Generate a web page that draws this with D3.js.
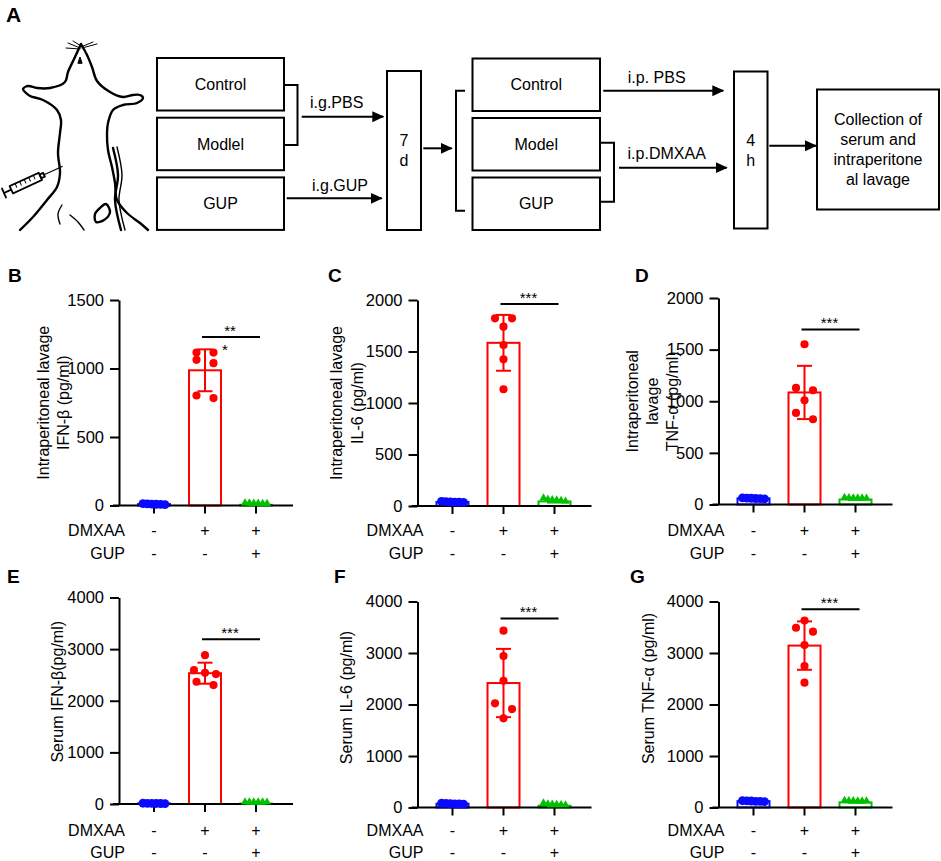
<!DOCTYPE html>
<html>
<head>
<meta charset="utf-8">
<script src="https://cdn.jsdelivr.net/npm/d3@7/dist/d3.min.js"></script>
<style>
  body { margin: 0; background: #fff; }
  svg { font-family: "Liberation Sans", Arial, sans-serif; }
</style>
</head>
<body>
<div id="chart"></div>
<script>
// ---- data ----
var groups = ["Control", "Model", "GUP"];
var dmxaaRow = ["-", "+", "+"];
var gupRow = ["-", "-", "+"];
var panelIds = ["B", "C", "D", "E", "F", "G"];
var yTitles = [
  ["Intraperitoneal lavage", "IFN-β (pg/ml)"],
  ["Intraperitoneal lavage", "IL-6 (pg/ml)"],
  ["Intraperitoneal", "lavage", "TNF-α (pg/ml)"],
  ["Serum IFN-β(pg/ml)"],
  ["Serum IL-6 (pg/ml)"],
  ["Serum TNF-α (pg/ml)"]
];
var yMax = [1500, 2000, 2000, 4000, 4000, 4000];
var yStep = [500, 500, 500, 1000, 1000, 1000];
var controlValues = [
  [6, 10, 14, 8, 12, 9],
  [38, 42, 35, 45, 40, 36],
  [58, 62, 55, 60, 64, 57],
  [8, 12, 15, 10, 9, 11],
  [70, 78, 65, 82, 74, 68],
  [120, 128, 115, 132, 125, 118]
];
var modelValues = [
  [1116, 1116, 1063, 1039, 803, 784],
  [1822, 1822, 1741, 1563, 1424, 1133],
  [1552, 1129, 1107, 1010, 887, 826],
  [2883, 2593, 2541, 2516, 2367, 2303],
  [3434, 2942, 2462, 2022, 1911, 1731],
  [3630, 3490, 3415, 3156, 2748, 2424]
];
var gupValues = [
  [4, 6, 5, 3, 7, 5],
  [30, 45, 62, 38, 50, 42],
  [45, 50, 48, 52, 47, 49],
  [6, 9, 8, 7, 10, 8],
  [25, 40, 30, 55, 20, 35],
  [95, 100, 105, 98, 102, 96]
];
var sigValues = [1230, 1960, 1695, 3190, 3670, 3850];
var sigLabels = [["**", "*"], ["***"], ["***"], ["***"], ["***"], ["***"]];

// flow chart (panel A) texts
var flowLeft = ["Control", "Modlel", "GUP"];
var flowRight = ["Control", "Model", "GUP"];
var flowWait1 = ["7", "d"];
var flowWait2 = ["4", "h"];
var flowEnd = ["Collection of", "serum and", "intraperitone", "al lavage"];
var flowArrowLabels = ["i.g.PBS", "i.g.GUP", "i.p. PBS", "i.p.DMXAA"];

// ---- style / layout ----
var colors = ["#0a0aff", "#ff0000", "#00c000"];
var panelLayout = [
  {x: 119,   top: 300,   bottom: 505.5, titleX: [-76, -56],      titleDy: 0,   lx: 8,   ly: 282, rows: [530, 553]},
  {x: 417.5, top: 300,   bottom: 506,   titleX: [-81, -60],      titleDy: 0,   lx: 328, ly: 282, rows: [530, 553]},
  {x: 718.5, top: 298,   bottom: 504.5, titleX: [-86, -66, -46], titleDy: 0,   lx: 635, ly: 282, rows: [530, 553]},
  {x: 119,   top: 597.5, bottom: 804,   titleX: [-62],           titleDy: -9,  lx: 7,   ly: 583, rows: [830, 852]},
  {x: 417.5, top: 601.5, bottom: 807.5, titleX: [-71],           titleDy: -7,  lx: 334, ly: 583, rows: [830, 852]},
  {x: 718.5, top: 601.5, bottom: 807.5, titleX: [-70],           titleDy: -16, lx: 630, ly: 583, rows: [830, 852]}
];

var svg = d3.select("#chart").append("svg")
  .attr("width", 941)
  .attr("height", 861);

var defs = svg.append("defs");
defs.append("marker")
  .attr("id", "arrow")
  .attr("markerUnits", "userSpaceOnUse")
  .attr("markerWidth", 12).attr("markerHeight", 12)
  .attr("refX", 11).attr("refY", 5.5)
  .attr("orient", "auto")
  .append("path").attr("d", "M0,0 L12,5.5 L0,11 Z").attr("fill", "#000");

// ---------- panel A ----------
var A = svg.append("g");
A.append("text").text("A").attr("x", 6).attr("y", 22)
  .attr("font-size", 21).attr("font-weight", "bold");

// mouse sketch
var mouse = A.append("g").attr("fill", "none").attr("stroke", "#000")
  .attr("stroke-width", 2.4).attr("stroke-linejoin", "round").attr("stroke-linecap", "round");
var line = d3.line().curve(d3.curveCatmullRom);
mouse.append("path").attr("d", line([[81,44],[75,57],[68,72],[65,82],[50,88],[37,88],[28,86],[23,89],[25,92],[30,96],[43,100],[57,110],[61,120],[60,133],[58,153],[60,173],[57,187],[47,200],[33,217],[20,230]]));
mouse.append("path").attr("d", line([[81,44],[87,55],[92,67],[97,81],[110,92],[123,97],[133,95],[140,95],[143,98],[137,103],[123,105],[113,110],[108,123],[107,133],[108,150],[112,167],[115,183],[117,200],[127,213],[140,223],[148,230]]));
mouse.append("path").attr("d", line([[113,148],[118,175],[115,200],[121,230]]));
mouse.append("path").attr("d", line([[117,147],[122,175],[119,200],[125,230]])).attr("stroke-width", 1.4);
mouse.append("path").attr("d", line([[100,208],[106,204],[110,212],[104,220],[96,222],[95,214],[100,208]]));
mouse.append("path").attr("d", line([[62,205],[58,214],[60,224]])).attr("stroke-width", 1.4);
mouse.append("path").attr("d", line([[70,215],[78,222],[84,230]])).attr("stroke-width", 1.4);
mouse.append("path").attr("d", "M78,63 L80,57 L82,63 Z").attr("fill", "#000").attr("stroke-width", 1);
[[[80,48],[68,43]],[[80,49],[66,48]],[[81,47],[93,42]],[[82,48],[97,44]],[[81,46],[73,41]]].forEach(function(w){
  mouse.append("path").attr("d", d3.line()(w)).attr("stroke-width", 1);
});
var syringe = mouse.append("g").attr("transform", "translate(4,193) rotate(-24.5)").attr("stroke-width", 1.8);
syringe.append("line").attr("x1", 0).attr("y1", -5).attr("x2", 0).attr("y2", 5);
syringe.append("line").attr("x1", 0).attr("y1", 0).attr("x2", 8).attr("y2", 0);
syringe.append("rect").attr("x", 8).attr("y", -4).attr("width", 32).attr("height", 8).attr("fill", "#fff");
[14, 19, 24, 29, 34].forEach(function(t){
  syringe.append("line").attr("x1", t).attr("y1", -4).attr("x2", t).attr("y2", 0).attr("stroke-width", 1);
});
syringe.append("rect").attr("x", 40).attr("y", -2).attr("width", 4).attr("height", 4);
syringe.append("line").attr("x1", 44).attr("y1", 0).attr("x2", 64).attr("y2", 0).attr("stroke-width", 1.2);

// flow boxes
function box(x, y, w, h, lines, lh) {
  A.append("rect").attr("x", x).attr("y", y).attr("width", w).attr("height", h)
    .attr("fill", "#fff").attr("stroke", "#000").attr("stroke-width", 2);
  var cy = y + h / 2 - (lines.length - 1) * lh / 2;
  lines.forEach(function(t, k){
    A.append("text").text(t).attr("x", x + w / 2).attr("y", cy + k * lh)
      .attr("dy", "0.35em").attr("text-anchor", "middle").attr("font-size", 16);
  });
}
flowLeft.forEach(function(t, k){ box(157, 58 + k * 59.7, 127, 52.5, [t], 20); });
flowRight.forEach(function(t, k){ box(472.5, 58.5 + k * 59.5, 127.5, 52.5, [t], 20); });
box(387, 71, 34, 159, flowWait1, 20);
box(734, 71.5, 33.5, 157, flowWait2, 20);
box(817, 89.5, 122, 120, flowEnd, 20);

function bracket(d) {
  A.append("path").attr("d", d).attr("fill", "none").attr("stroke", "#000").attr("stroke-width", 2);
}
bracket("M284,85 H297.5 V145 H284");
bracket("M465,90.7 H456 V210.7 H465");
bracket("M600,142.7 H614 V201.7 H600");

function arrow(x1, x2, y, label, lx, ly) {
  A.append("line").attr("x1", x1).attr("x2", x2).attr("y1", y).attr("y2", y)
    .attr("stroke", "#000").attr("stroke-width", 2).attr("marker-end", "url(#arrow)");
  if (label) A.append("text").text(label).attr("x", lx).attr("y", ly)
    .attr("text-anchor", "middle").attr("font-size", 16);
}
arrow(301.7, 383.3, 116.7, flowArrowLabels[0], 336.7, 108);
arrow(286.7, 381.7, 198.3, flowArrowLabels[1], 340, 191);
arrow(423.3, 451.7, 148.3);
arrow(603.3, 723.3, 90.7, flowArrowLabels[2], 656.7, 82.5);
arrow(619, 726.7, 167.7, flowArrowLabels[3], 666.7, 159.3);
arrow(769.3, 816, 145.7);

// ---------- bar panels ----------
function swarm(vals, y) {
  var idx = vals.map(function(v, k){ return k; }).sort(function(a, b){ return vals[b] - vals[a]; });
  var rows = [], cur = null;
  idx.forEach(function(k){
    var py = y(vals[k]);
    if (cur && Math.abs(py - cur.py) < 6.5 && cur.items.length < 6) cur.items.push(k);
    else { cur = {py: py, items: [k]}; rows.push(cur); }
  });
  var off = [];
  rows.forEach(function(r){
    var n = r.items.length, step = n > 1 ? Math.min(17, 22 / (n - 1)) : 0;
    r.items.forEach(function(k, j){ off[k] = (j - (n - 1) / 2) * step; });
  });
  return off;
}

panelIds.forEach(function(id, i){
  var L = panelLayout[i];
  var g = svg.append("g");
  var series = [controlValues[i], modelValues[i], gupValues[i]];
  var x = d3.scaleBand().domain(groups).range([L.x + 9.5, L.x + 162.5]);
  var y = d3.scaleLinear().domain([0, yMax[i]]).range([L.bottom, L.top]);
  var cx = function(k){ return x(groups[k]) + x.bandwidth() / 2; };

  g.append("text").text(id).attr("x", L.lx).attr("y", L.ly)
    .attr("font-size", 19).attr("font-weight", "bold");

  // bars
  series.forEach(function(vals, k){
    var m = d3.mean(vals);
    g.append("rect")
      .attr("x", cx(k) - 16).attr("width", 32)
      .attr("y", y(m)).attr("height", Math.max(0, L.bottom - y(m)))
      .attr("fill", "#fff").attr("stroke", colors[k]).attr("stroke-width", 2);
  });

  // y axis
  var ya = g.append("g").attr("transform", "translate(" + L.x + ",0)")
    .call(d3.axisLeft(y).tickValues(d3.range(0, yMax[i] + 1, yStep[i]))
      .tickFormat(d3.format("d"))
      .tickSize(9).tickPadding(6).tickSizeOuter(0));
  ya.selectAll("path,line").attr("stroke", "#000").attr("stroke-width", 2);
  ya.selectAll("text").attr("font-size", 16.5).attr("fill", "#000")
    .attr("font-family", "Liberation Sans, Arial, sans-serif");

  // x axis
  g.append("line").attr("x1", L.x - 6).attr("x2", L.x + 174)
    .attr("y1", L.bottom).attr("y2", L.bottom).attr("stroke", "#000").attr("stroke-width", 2);
  var xa = g.append("g").attr("transform", "translate(0," + L.bottom + ")")
    .call(d3.axisBottom(x).tickSize(8).tickFormat(""));
  xa.select(".domain").remove();
  xa.selectAll("line").attr("stroke", "#000").attr("stroke-width", 2);

  // error bars and points
  series.forEach(function(vals, k){
    var m = d3.mean(vals), sd = d3.deviation(vals), c = cx(k);
    var eb = g.append("g").attr("stroke", colors[k]).attr("stroke-width", 2);
    eb.append("line").attr("x1", c).attr("x2", c).attr("y1", y(m - sd)).attr("y2", y(m + sd));
    [m - sd, m + sd].forEach(function(v){
      eb.append("line").attr("x1", c - 7.5).attr("x2", c + 7.5).attr("y1", y(v)).attr("y2", y(v));
    });
    var off = swarm(vals, y);
    var sym = k === 2 ? d3.symbol(d3.symbolTriangle, 30) : d3.symbol(d3.symbolCircle, k === 0 ? 62 : 52);
    g.selectAll(null).data(vals).enter().append("path")
      .attr("d", sym)
      .attr("transform", function(v, j){ return "translate(" + (c + off[j]) + "," + (y(v) - (k === 2 ? 1.5 : 0)) + ")"; })
      .attr("fill", colors[k]);
  });

  // y title
  var ty = (L.top + L.bottom) / 2 + L.titleDy;
  yTitles[i].forEach(function(t, j){
    g.append("text").text(t)
      .attr("transform", "translate(" + (L.x + L.titleX[j]) + "," + ty + ") rotate(-90)")
      .attr("dy", "0.35em").attr("text-anchor", "middle").attr("font-size", 16);
  });

  // treatment rows
  [["DMXAA", dmxaaRow, L.rows[0]], ["GUP", gupRow, L.rows[1]]].forEach(function(r){
    g.append("text").text(r[0]).attr("x", L.x + 6).attr("y", r[2])
      .attr("dy", "0.35em").attr("text-anchor", "end").attr("font-size", 16);
    r[1].forEach(function(s, k){
      g.append("text").text(s).attr("x", cx(k)).attr("y", r[2])
        .attr("dy", "0.35em").attr("text-anchor", "middle").attr("font-size", 16);
    });
  });

  // significance
  var sy = y(sigValues[i]), x1 = cx(1) - 3, x2 = cx(2) + 4, mid = (x1 + x2) / 2;
  g.append("line").attr("x1", x1).attr("x2", x2).attr("y1", sy).attr("y2", sy)
    .attr("stroke", "#000").attr("stroke-width", 2);
  sigLabels[i].forEach(function(t, j){
    g.append("text").text(t)
      .attr("x", j === 0 ? mid - 1 : mid - 6).attr("y", j === 0 ? sy - 1 : sy + 18)
      .attr("text-anchor", "middle").attr("font-size", 15);
  });
});
</script>
</body>
</html>
